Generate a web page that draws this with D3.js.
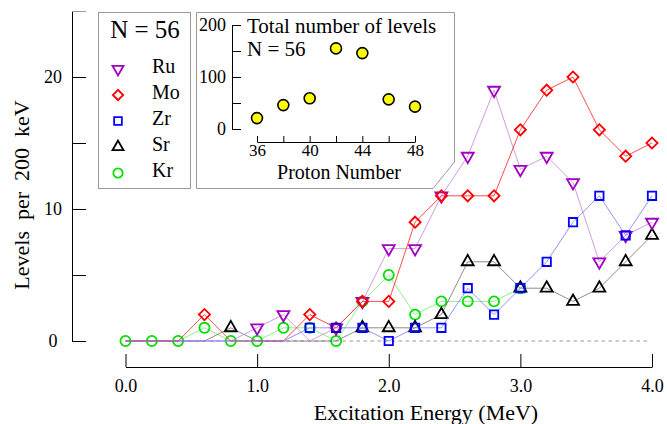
<!DOCTYPE html>
<html>
<head>
<meta charset="utf-8">
<script src="https://cdn.jsdelivr.net/npm/d3@7"></script>
<style>
  body { margin: 0; background: #fff; }
  text { font-family: "Liberation Serif", "Times New Roman", serif; fill: #000; }
</style>
</head>
<body>
<svg id="chart" width="667" height="424"></svg>
<script>
// level densities (levels per 200 keV) for N = 56 isotones
const energies = [0.0, 0.2, 0.4, 0.6, 0.8, 1.0, 1.2, 1.4, 1.6, 1.8, 2.0, 2.2, 2.4, 2.6, 2.8, 3.0, 3.2, 3.4, 3.6, 3.8, 4.0];
const ru = [0, 0, 0, 0, 0, 1, 2, 0, 1, 3, 7, 7, 11, 14, 19, 13, 14, 12, 6, 8, 9];
const mo = [0, 0, 0, 2, 0, 0, 0, 2, 1, 3, 3, 9, 11, 11, 11, 16, 19, 20, 16, 14, 15];
const zr = [0, 0, 0, 0, 0, 0, 0, 1, 1, 1, 0, 1, 1, 4, 2, 4, 6, 9, 11, 8, 11];
const sr = [0, 0, 0, 0, 1, 0, 0, 0, 0, 1, 1, 1, 2, 6, 6, 4, 4, 3, 4, 6, 8];
const kr = [0, 0, 0, 1, 0, 0, 1, 1, 0, 3, 5, 2, 3, 3, 3, 4];

const xTicks = [0, 1, 2, 3, 4];
const yTicks = [0, 5, 10, 15, 20];

// inset: total number of levels
const protonNumbers = [36, 38, 40, 42, 44, 46, 48];
const totalLevels = [21, 46, 59, 155, 146, 57, 43];
const insetXTicks = [36, 38, 40, 42, 44, 46, 48];
const insetYTicks = [0, 50, 100, 150, 200];

const legendOrder = ["Ru", "Mo", "Zr", "Sr", "Kr"];

// drawing order (bottom to top)
const series = [
  { name: "Kr", values: kr, mark: "#00e000", line: "#70ee70", sym: d3.symbolCircle, size: 80, rot: 0, allMarks: true },
  { name: "Sr", values: sr, mark: "#000000", line: "#707070", sym: d3.symbolTriangle, size: 62, rot: 0 },
  { name: "Ru", values: ru, mark: "#a000c0", line: "#c584d8", sym: d3.symbolTriangle, size: 62, rot: 180 },
  { name: "Mo", values: mo, mark: "#ff0000", line: "#ff2020", sym: d3.symbolSquare, size: 62, rot: 45 },
  { name: "Zr", values: zr, mark: "#0000ff", line: "#7878ff", sym: d3.symbolSquare, size: 70, rot: 0, zeroMarks: [2.0] }
];

const svg = d3.select("#chart");

const x = d3.scaleLinear().domain([0, 4]).range([125.5, 652]);
const y = d3.scaleLinear().domain([0, 25]).range([341, 11]);

const yAxisX = 72;
const xAxisY = 367;

// zero reference line
svg.append("line")
  .attr("x1", x(0)).attr("x2", 648)
  .attr("y1", y(0)).attr("y2", y(0))
  .attr("stroke", "#999").attr("stroke-width", 1)
  .attr("stroke-dasharray", "3.5,3.5");

// y axis
const gy = svg.append("g")
  .attr("transform", `translate(${yAxisX},0)`)
  .call(d3.axisLeft(y).tickValues(yTicks).tickSize(-14).tickSizeOuter(0)
    .tickFormat(d => d % 10 === 0 ? d : ""));
gy.select(".domain").attr("stroke", "#000");
gy.selectAll(".tick line").attr("stroke", "#000");
gy.selectAll(".tick text")
  .attr("x", -19)
  .attr("text-anchor", "middle")
  .style("font-size", "18px");

svg.append("line")
  .attr("x1", yAxisX).attr("x2", yAxisX + 14)
  .attr("y1", y(25) + 0.5).attr("y2", y(25) + 0.5)
  .attr("stroke", "#999");

// x axis
const gx = svg.append("g")
  .attr("transform", `translate(0,${xAxisY})`)
  .call(d3.axisBottom(x).tickValues(xTicks).tickSize(-13).tickSizeOuter(0)
    .tickPadding(12).tickFormat(d3.format(".1f")));
gx.select(".domain").attr("stroke", "#000");
gx.selectAll(".tick text").style("font-size", "18px");

// axis titles
svg.append("text")
  .attr("x", 426).attr("y", 420)
  .attr("text-anchor", "middle")
  .style("font-size", "22px")
  .text("Excitation Energy (MeV)");

svg.append("text")
  .attr("transform", "translate(29,195) rotate(-90)")
  .attr("text-anchor", "middle")
  .style("font-size", "22px")
  .style("white-space", "pre")
  .text("Levels  per  200  keV");

// series lines + markers
const line = d3.line()
  .x((d, i) => x(energies[i]))
  .y(d => y(d));

const symbolPath = s => d3.symbol().type(s.sym).size(s.size)();

series.forEach(s => {
  svg.append("path")
    .datum(s.values)
    .attr("fill", "none")
    .attr("stroke", s.line)
    .attr("stroke-width", 1)
    .attr("stroke-opacity", 0.8)
    .attr("d", line);

  const pts = s.values
    .map((v, i) => ({ e: energies[i], v }))
    .filter(p => p.v !== 0 || s.allMarks || (s.zeroMarks || []).includes(p.e));

  svg.append("g").selectAll("path")
    .data(pts)
    .join("path")
    .attr("transform", p => `translate(${x(p.e)},${y(p.v)}) rotate(${s.rot})`)
    .attr("d", symbolPath(s))
    .attr("fill", "none")
    .attr("stroke", s.mark)
    .attr("stroke-width", 1.8);
});

// legend box
const legend = svg.append("g");
legend.append("rect")
  .attr("x", 98.5).attr("y", 12.5)
  .attr("width", 92).attr("height", 176)
  .attr("fill", "#fff").attr("stroke", "#999");

legend.append("text")
  .attr("x", 145).attr("y", 38)
  .attr("text-anchor", "middle")
  .style("font-size", "25px")
  .text("N = 56");

legendOrder.forEach((name, i) => {
  const s = series.find(d => d.name === name);
  const by = 73 + i * 26;
  legend.append("path")
    .attr("transform", `translate(118,${by - 4}) rotate(${s.rot})`)
    .attr("d", d3.symbol().type(s.sym).size(s.size * 0.85)())
    .attr("fill", "none")
    .attr("stroke", s.mark)
    .attr("stroke-width", 1.8);
  legend.append("text")
    .attr("x", 152).attr("y", by)
    .style("font-size", "20px")
    .text(name);
});

// inset
const inset = svg.append("g");
inset.append("path")
  .attr("d", "M196.5,12.5 H454.5 V162 L433,188.5 H196.5 Z")
  .attr("fill", "#fff").attr("stroke", "#999");

const ix = d3.scaleLinear().domain([36, 48]).range([257, 415]);
const iy = d3.scaleLinear().domain([0, 200]).range([129, 25]);

const giy = inset.append("g")
  .attr("transform", "translate(232,0)")
  .call(d3.axisLeft(iy).tickValues(insetYTicks).tickSize(-9).tickSizeOuter(0)
    .tickPadding(6).tickFormat(d => d % 100 === 0 ? d : ""));
giy.selectAll(".tick text").style("font-size", "18px");

const gix = inset.append("g")
  .attr("transform", "translate(0,142)")
  .call(d3.axisBottom(ix).tickValues(insetXTicks).tickSize(-6).tickSizeOuter(0)
    .tickPadding(2).tickFormat(d => d % 4 === 0 ? d : ""));
gix.selectAll(".tick text").style("font-size", "17px");

inset.append("text")
  .attr("x", 247).attr("y", 33)
  .style("font-size", "21px")
  .text("Total number of levels");
inset.append("text")
  .attr("x", 247).attr("y", 56)
  .style("font-size", "21px")
  .text("N = 56");
inset.append("text")
  .attr("x", 339).attr("y", 179)
  .attr("text-anchor", "middle")
  .style("font-size", "20px")
  .text("Proton Number");

inset.append("g").selectAll("circle")
  .data(protonNumbers)
  .join("circle")
  .attr("cx", d => ix(d))
  .attr("cy", (d, i) => iy(totalLevels[i]))
  .attr("r", 5.5)
  .attr("fill", "#ffff00")
  .attr("stroke", "#000")
  .attr("stroke-width", 1.6);
</script>
</body>
</html>
